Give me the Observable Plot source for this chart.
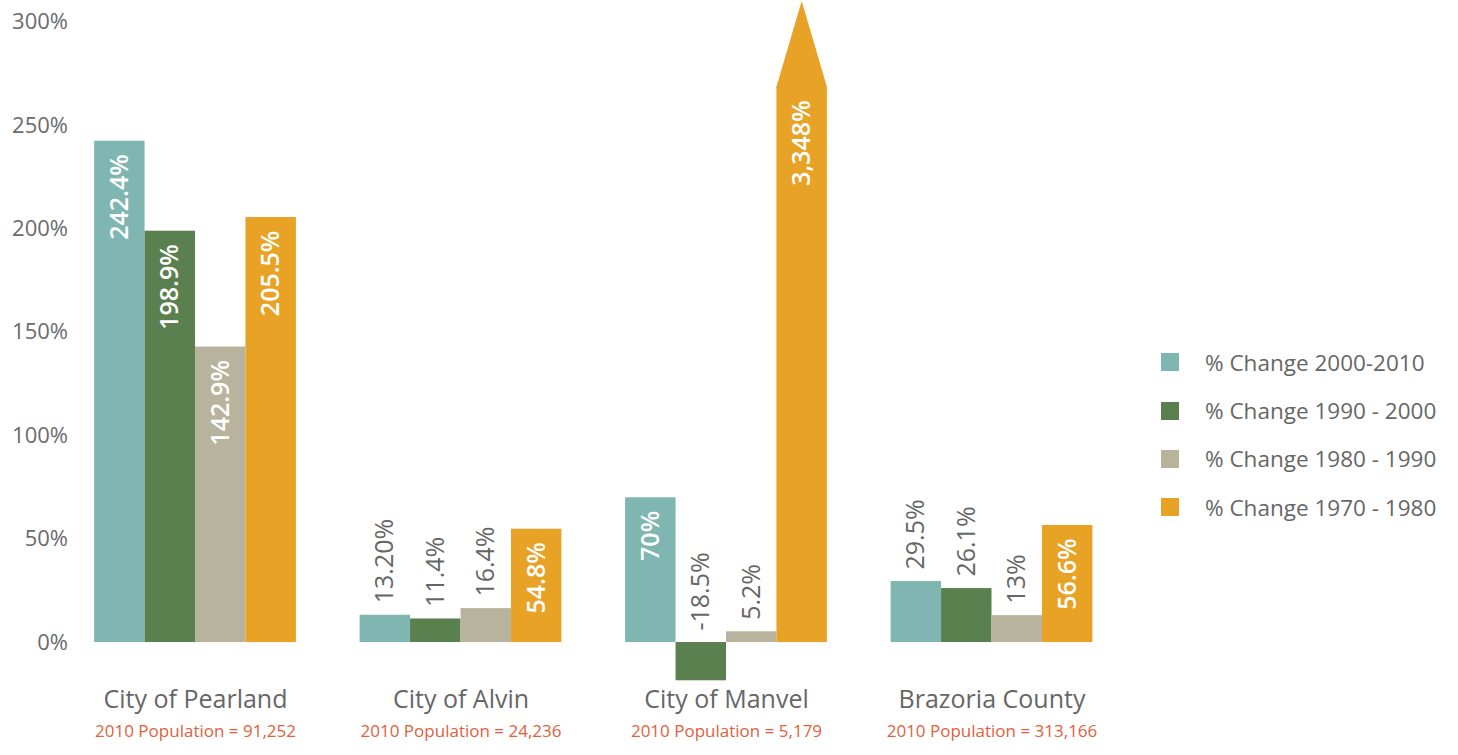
<!DOCTYPE html>
<html>
<head>
<meta charset="utf-8">
<script src="https://cdn.jsdelivr.net/npm/d3@7"></script>
<script src="https://cdn.jsdelivr.net/npm/@observablehq/plot@0.6"></script>
<style>
  html, body { margin: 0; padding: 0; background: #fff; }
  #wrap { position: relative; width: 1458px; height: 755px; overflow: hidden; font-family: "Open Sans", sans-serif; }
  #legend { position: absolute; left: 1161px; top: 338px; }
  .row { display: flex; align-items: center; height: 48.4px; font-size: 22.5px; color: #666; }
  .sw { width: 18px; height: 18px; margin-right: 26px; }
</style>
</head>
<body>
<div id="wrap"><div id="chart"></div><div id="legend"></div></div>
<script>
const places = ["City of Pearland", "City of Alvin", "City of Manvel", "Brazoria County"];
const populations = ["91,252", "24,236", "5,179", "313,166"];
const periods = ["% Change 2000-2010", "% Change 1990 - 2000", "% Change 1980 - 1990", "% Change 1970 - 1980"];
const colors = ["#80b6b1", "#5b8050", "#b8b39d", "#e8a226"];

const change2000_2010 = [242.4, 13.2, 70, 29.5];
const change1990_2000 = [198.9, 11.4, -18.5, 26.1];
const change1980_1990 = [142.9, 16.4, 5.2, 13];
const change1970_1980 = [205.5, 54.8, 3348, 56.6];

const labels2000_2010 = ["242.4%", "13.20%", "70%", "29.5%"];
const labels1990_2000 = ["198.9%", "11.4%", "-18.5%", "26.1%"];
const labels1980_1990 = ["142.9%", "16.4%", "5.2%", "13%"];
const labels1970_1980 = ["205.5%", "54.8%", "3,348%", "56.6%"];

const yTicks = [0, 50, 100, 150, 200, 250, 300];
const yMax = 300;
const capValue = 268.5;   // where an off-scale bar is cut
const tipValue = 310;     // tip of the arrow for off-scale bars
const insideThreshold = 50;
const bw = 0.19;          // bar width in group units

const seriesValues = [change2000_2010, change1990_2000, change1980_1990, change1970_1980];
const seriesLabels = [labels2000_2010, labels1990_2000, labels1980_1990, labels1970_1980];

const rows = [];
places.forEach((p, g) => {
  periods.forEach((per, s) => {
    const v = seriesValues[s][g];
    const x1 = g + (s - 2) * bw;
    rows.push({
      place: p, period: per, s, value: v, label: seriesLabels[s][g],
      x1, x2: x1 + bw, xc: x1 + bw / 2,
      display: v > yMax ? capValue : v,
      over: v > yMax
    });
  });
});

const arrows = rows.filter(d => d.over).flatMap(d => [
  {x: d.x1, y: capValue, s: d.s},
  {x: d.xc, y: tipValue, s: d.s},
  {x: d.x2, y: capValue, s: d.s}
]);

const groups = places.map((p, g) => ({g, place: p, pop: "2010 Population = " + populations[g]}));

const chart = Plot.plot({
  width: 1458,
  height: 755,
  marginLeft: 83.5,
  marginRight: 333.75,
  marginTop: 21.6,
  marginBottom: 71.6,
  style: {fontFamily: "Open Sans, sans-serif", fontSize: "22px", color: "#6b6b6b", background: "white", overflow: "visible"},
  x: {domain: [-0.42, 3.5], axis: null},
  y: {domain: [-20, yMax], ticks: yTicks, tickFormat: d => d + "%", tickSize: 0, tickPadding: 16, label: null},
  color: {domain: [0, 1, 2, 3], range: colors, type: "ordinal"},
  marks: [
    Plot.rect(rows, {x1: "x1", x2: "x2", y1: 0, y2: "display", fill: d => d.s}),
    Plot.areaY(arrows, {x: "x", y1: d => capValue - 0.5, y2: "y", fill: d => d.s}),
    Plot.text(rows.filter(d => d.value >= insideThreshold), {
      x: "xc", y: "display", text: "label", rotate: -90, textAnchor: "end", dy: 13,
      fill: "white", fontWeight: 600, fontSize: 25
    }),
    Plot.text(rows.filter(d => d.value < insideThreshold), {
      x: "xc", y: d => Math.max(0, d.display), text: "label", rotate: -90, textAnchor: "start", dy: -12,
      fill: "#666", fontSize: 25
    }),
    Plot.text(groups, {x: "g", frameAnchor: "bottom", lineAnchor: "middle", text: "place", dy: 16, fontSize: 25, fill: "#666"}),
    Plot.text(groups, {x: "g", frameAnchor: "bottom", lineAnchor: "middle", text: "pop", dy: 48, fontSize: 17, fill: "#e2603c"})
  ]
});
document.getElementById("chart").append(chart);

const legend = document.getElementById("legend");
periods.forEach((p, i) => {
  const row = document.createElement("div");
  row.className = "row";
  const sw = document.createElement("div");
  sw.className = "sw";
  sw.style.background = colors[i];
  const t = document.createElement("span");
  t.textContent = p;
  row.append(sw, t);
  legend.append(row);
});
</script>
</body>
</html>
